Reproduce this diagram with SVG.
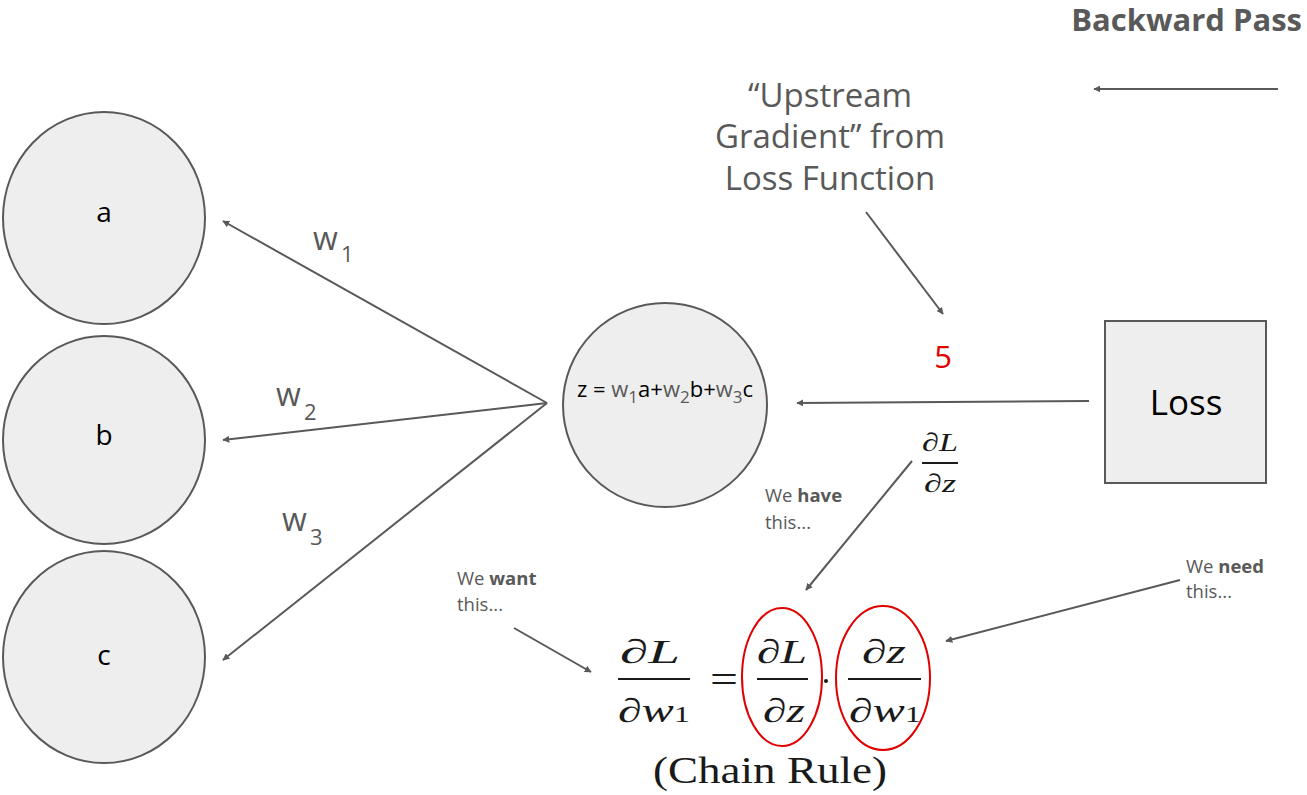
<svg xmlns="http://www.w3.org/2000/svg" width="1307" height="795" viewBox="0 0 1307 795">
<style>
.node{fill:#eeeeee;stroke:#595959;stroke-width:2}
.lbl{font-family:"Open Sans",Lato,sans-serif;fill:#000;text-anchor:middle}
.gray{font-family:"Open Sans",Roboto,sans-serif;fill:#595959}
.conn{stroke:#595959;stroke-width:2;fill:none;marker-end:url(#ah)}
.note{font-family:"Open Sans",Lato,sans-serif;font-size:18.5px;fill:#595959}
.math{font-family:"Liberation Serif","DejaVu Serif",serif;fill:#1a1a1a;text-anchor:middle}
.bar{stroke:#1a1a1a;stroke-width:2}
.red{fill:none;stroke:#e00000;stroke-width:2}
</style>
<defs>
<marker id="ah" viewBox="0 0 10 10" refX="9" refY="5" markerWidth="7" markerHeight="7" orient="auto" markerUnits="userSpaceOnUse">
<path d="M0,0 L10,5 L0,10 Z" fill="#595959"/>
</marker>
</defs>
<rect width="1307" height="795" fill="#fff"/>

<text x="1302" y="31" font-family="'Open Sans',Lato,sans-serif" font-weight="bold" font-size="31" fill="#595959" text-anchor="end">Backward Pass</text>

<g id="node-a"><ellipse class="node" cx="104" cy="218" rx="101" ry="106"/><text class="lbl" x="104" y="222" font-size="28">a</text></g>
<g id="node-b"><ellipse class="node" cx="104" cy="440" rx="101" ry="104"/><text class="lbl" x="104" y="445" font-size="28">b</text></g>
<g id="node-c"><ellipse class="node" cx="104" cy="657" rx="101" ry="106"/><text class="lbl" x="104" y="665" font-size="28">c</text></g>

<g id="node-z"><circle class="node" cx="665" cy="405" r="102"/>
<text x="665" y="397" font-family="'Open Sans',Lato,sans-serif" font-size="22" text-anchor="middle" fill="#000">z = <tspan fill="#595959">w</tspan><tspan fill="#595959" font-size="17" dy="6">1</tspan><tspan dy="-6">a+</tspan><tspan fill="#595959">w</tspan><tspan fill="#595959" font-size="17" dy="6">2</tspan><tspan dy="-6">b+</tspan><tspan fill="#595959">w</tspan><tspan fill="#595959" font-size="17" dy="6">3</tspan><tspan dy="-6">c</tspan></text>
</g>

<g id="node-loss"><rect class="node" x="1105" y="321" width="161" height="162"/><text class="lbl" x="1186" y="415" font-size="35">Loss</text></g>

<g id="upstream">
<text class="gray" x="830" y="107" font-size="33" text-anchor="middle">“Upstream</text>
<text class="gray" x="830" y="148" font-size="33" text-anchor="middle">Gradient” from</text>
<text class="gray" x="830" y="190" font-size="33" text-anchor="middle">Loss Function</text>
</g>

<text x="943" y="368" font-family="'Open Sans',Roboto,sans-serif" font-size="31" fill="#e00000" text-anchor="middle">5</text>

<g id="weights">
<text class="gray" x="313" y="250" font-size="32">w</text><text class="gray" x="341" y="262" font-size="22">1</text>
<text class="gray" x="276" y="406" font-size="32">w</text><text class="gray" x="304" y="420" font-size="22">2</text>
<text class="gray" x="282" y="531" font-size="32">w</text><text class="gray" x="310" y="545" font-size="22">3</text>
</g>

<g id="connectors">
<line class="conn" x1="547" y1="403" x2="223" y2="221"/>
<line class="conn" x1="547" y1="403" x2="223" y2="440"/>
<line class="conn" x1="547" y1="403" x2="223" y2="660"/>
<line class="conn" x1="1089" y1="401" x2="797" y2="403"/>
<line class="conn" x1="866" y1="212" x2="943" y2="314"/>
<line class="conn" x1="1278" y1="89" x2="1094" y2="89"/>
<line class="conn" x1="912" y1="461" x2="806" y2="590"/>
<line class="conn" x1="514" y1="628" x2="591" y2="672"/>
<line class="conn" x1="1180" y1="580" x2="946" y2="641"/>
</g>

<g id="notes">
<text class="note" x="765" y="502">We <tspan font-weight="bold">have</tspan></text>
<text class="note" x="765" y="529">this...</text>
<text class="note" x="457" y="585">We <tspan font-weight="bold">want</tspan></text>
<text class="note" x="457" y="611">this...</text>
<text class="note" x="1186" y="573">We <tspan font-weight="bold">need</tspan></text>
<text class="note" x="1186" y="598">this...</text>
</g>

<g id="dLdz-small">
<text class="math" x="940" y="451" font-size="26" textLength="36" lengthAdjust="spacingAndGlyphs">∂<tspan font-style="italic">L</tspan></text>
<line class="bar" x1="922" y1="463" x2="958" y2="463" stroke-width="1.5"/>
<text class="math" x="940" y="492" font-size="26" textLength="32" lengthAdjust="spacingAndGlyphs">∂<tspan font-style="italic">z</tspan></text>
</g>

<g id="chain-rule">
<text class="math" x="650" y="663" font-size="34" textLength="60" lengthAdjust="spacingAndGlyphs">∂<tspan font-style="italic">L</tspan></text>
<line class="bar" x1="618" y1="679" x2="690" y2="679"/>
<text class="math" x="654" y="722" font-size="34" textLength="72" lengthAdjust="spacingAndGlyphs">∂<tspan font-style="italic">w</tspan><tspan font-size="23">1</tspan></text>
<text class="math" x="724" y="692" font-size="38" textLength="28" lengthAdjust="spacingAndGlyphs">=</text>
<text class="math" x="782" y="663" font-size="34" textLength="50" lengthAdjust="spacingAndGlyphs">∂<tspan font-style="italic">L</tspan></text>
<line class="bar" x1="757" y1="679" x2="808" y2="679"/>
<text class="math" x="784" y="722" font-size="34" textLength="42" lengthAdjust="spacingAndGlyphs">∂<tspan font-style="italic">z</tspan></text>
<circle cx="826" cy="681" r="2" fill="#1a1a1a"/>
<text class="math" x="884" y="663" font-size="34" textLength="44" lengthAdjust="spacingAndGlyphs">∂<tspan font-style="italic">z</tspan></text>
<line class="bar" x1="848" y1="679" x2="921" y2="679"/>
<text class="math" x="885" y="722" font-size="34" textLength="72" lengthAdjust="spacingAndGlyphs">∂<tspan font-style="italic">w</tspan><tspan font-size="23">1</tspan></text>
<ellipse class="red" cx="782" cy="677" rx="40" ry="69"/>
<ellipse class="red" cx="883" cy="678" rx="47" ry="72"/>
<text class="math" x="770" y="783" font-size="38" textLength="234" lengthAdjust="spacingAndGlyphs">(Chain Rule)</text>
</g>
</svg>
